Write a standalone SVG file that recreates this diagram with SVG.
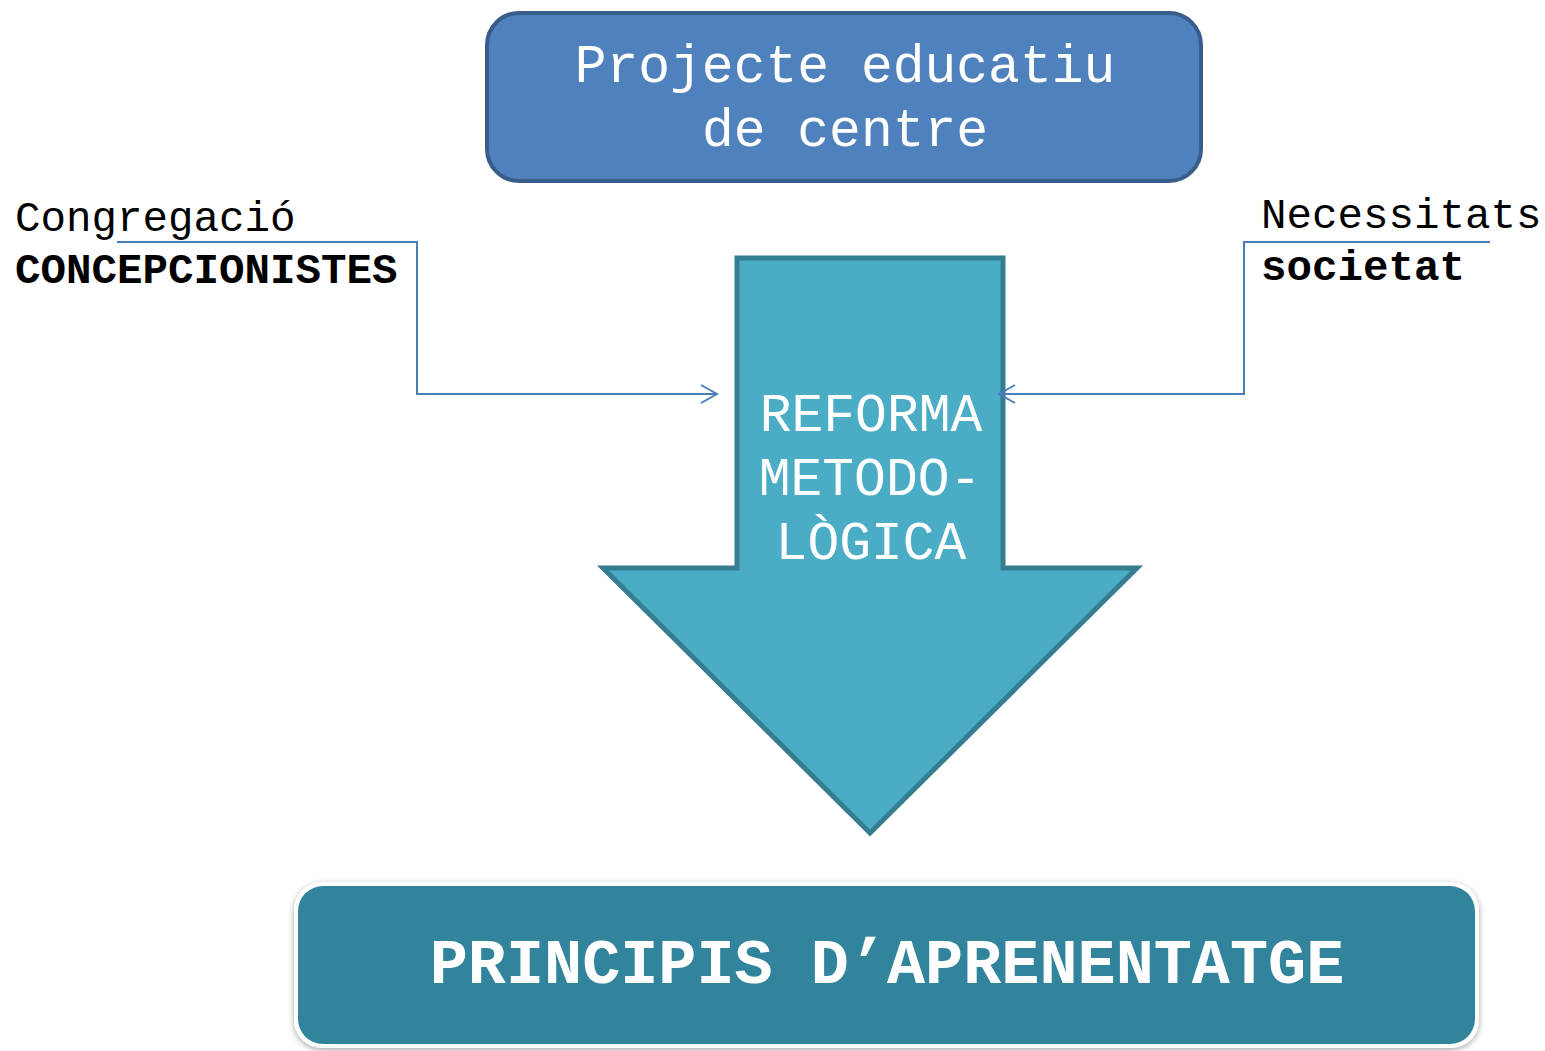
<svg xmlns="http://www.w3.org/2000/svg" width="1545" height="1051" viewBox="0 0 1545 1051">
<style>
.mono{font-family:"Liberation Mono","Courier New",monospace;}
.w{fill:#FFFFFF;}
.k{fill:#000000;}
.conn{fill:none;stroke:#4A7EBB;stroke-width:2;}
</style>
<defs>
<marker id="chev" markerWidth="20" markerHeight="20" refX="18" refY="10" orient="auto" markerUnits="userSpaceOnUse">
<path d="M2,1 L18,10 L2,19" fill="none" stroke="#4A7EBB" stroke-width="2"/>
</marker>
<filter id="sh" x="-5%" y="-20%" width="110%" height="140%">
<feGaussianBlur in="SourceAlpha" stdDeviation="3"/>
<feOffset dx="0" dy="2"/>
<feComponentTransfer><feFuncA type="linear" slope="0.35"/></feComponentTransfer>
<feMerge><feMergeNode/><feMergeNode in="SourceGraphic"/></feMerge>
</filter>
</defs>
<rect width="1545" height="1051" fill="#FFFFFF"/>
<g id="top">
<rect x="487" y="13" width="714" height="168" rx="32" fill="#4F81BD" stroke="#385D8A" stroke-width="4"/>
<text class="mono w" x="845" y="82" font-size="53" text-anchor="middle">Projecte educatiu</text>
<text class="mono w" x="845" y="146" font-size="53" text-anchor="middle">de centre</text>
</g>
<g id="arrow">
<path d="M737,258 L1003,258 L1003,568 L1137,568 L870,833 L603,568 L737,568 Z" fill="#4BACC6" stroke="#357D91" stroke-width="5" stroke-linejoin="miter"/>
<text class="mono w" x="871" y="431" font-size="53" text-anchor="middle">REFORMA</text>
<text class="mono w" x="870" y="495" font-size="53" text-anchor="middle">METODO-</text>
<text class="mono w" x="871" y="559" font-size="53" text-anchor="middle">LÒGICA</text>
</g>
<g id="left">
<text class="mono k" x="15" y="231" font-size="42.5">Congregació</text>
<text class="mono k" x="15" y="283" font-size="42.5" font-weight="bold">CONCEPCIONISTES</text>
</g>
<g id="right">
<text class="mono k" x="1261" y="228" font-size="42.5">Necessitats</text>
<text class="mono k" x="1261" y="280" font-size="42.5" font-weight="bold">societat</text>
</g>
<g id="connectors">
<path class="conn" d="M117,242 L417,242 L417,394 L717,394" marker-end="url(#chev)"/>
<path class="conn" d="M1490,242 L1244,242 L1244,394 L999,394" marker-end="url(#chev)"/>
</g>
<g id="bottom">
<rect x="294" y="882" width="1185" height="166" rx="28" fill="#FFFFFF" filter="url(#sh)"/>
<rect x="298" y="886" width="1177" height="158" rx="25" fill="#31849B"/>
<text class="mono w" x="887" y="983" font-size="63.5" font-weight="bold" text-anchor="middle">PRINCIPIS D’APRENENTATGE</text>
</g>
</svg>
